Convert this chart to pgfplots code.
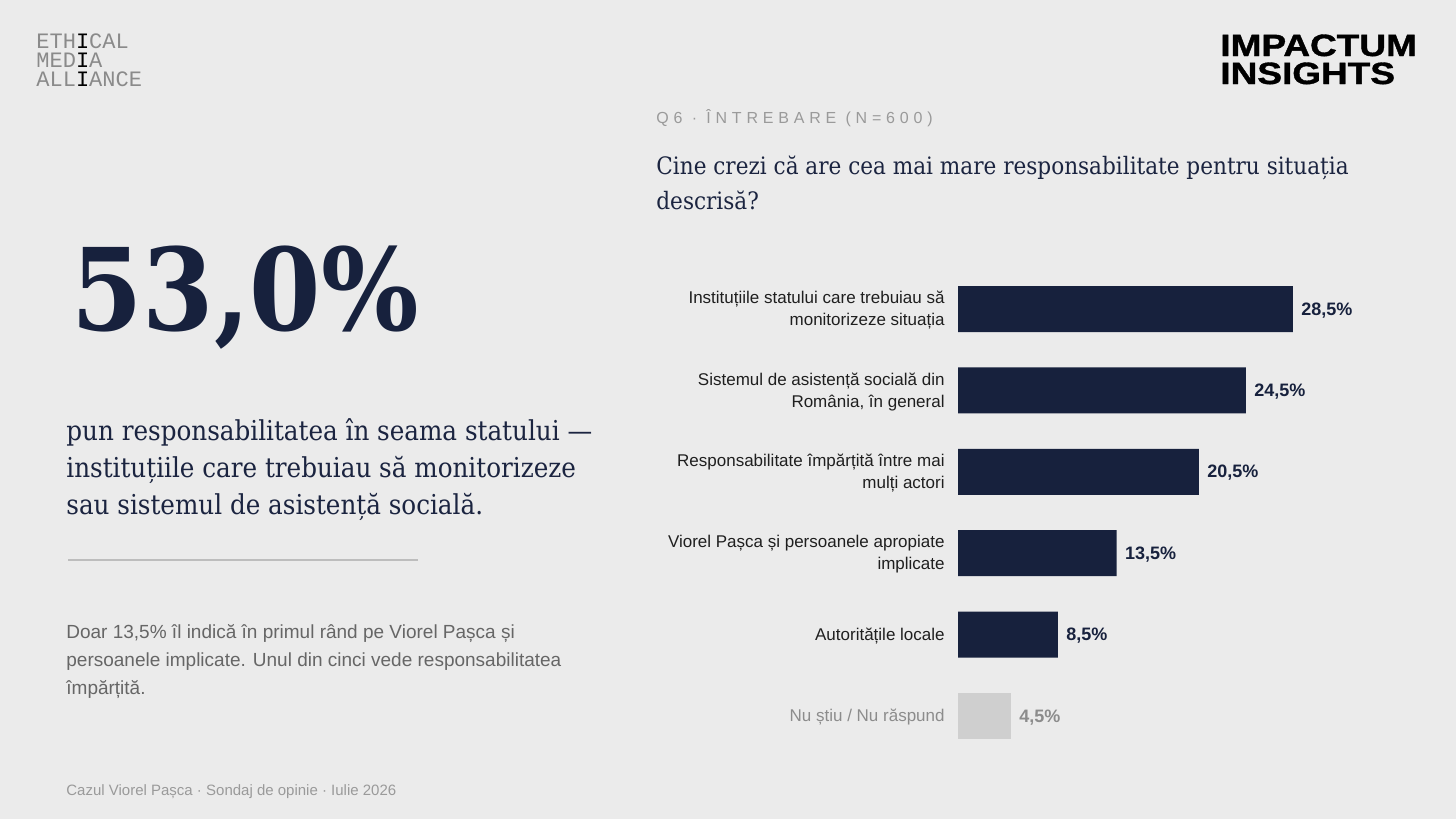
\documentclass[border=0pt]{standalone}
\usepackage{pgfplots}
\pgfplotsset{compat=1.18}
\usepackage{fontspec}
\setmainfont{Liberation Sans}
\newfontfamily\serifc{DejaVu Serif Condensed}
\newfontfamily\monof{Liberation Mono}
\newfontfamily\spaced{Liberation Sans}[LetterSpace=30]
\newfontfamily\heavy{Liberation Sans Bold}[FakeBold=1.2]

\definecolor{bg}{HTML}{EBEBEB}
\definecolor{navy}{HTML}{17213D}
\definecolor{ink}{HTML}{1B2440}
\definecolor{bargray}{HTML}{CFCFCF}
\definecolor{labeldark}{HTML}{1F1F1F}
\definecolor{mutedgray}{HTML}{8C8C8C}
\definecolor{bodygray}{HTML}{666666}
\definecolor{footgray}{HTML}{9A9A9A}
\definecolor{rulegray}{HTML}{BDBDBD}
\definecolor{logogray}{HTML}{8A8A8A}

\begin{document}
\begin{tikzpicture}[x=0.5pt,y=-0.5pt]
% page background
\fill[bg] (0,0) rectangle (1456,819);

% logo, top left
\begin{scope}[every node/.style={anchor=base west,inner sep=0pt,text height=7pt,text depth=0pt,
    font=\monof\fontsize{11}{11}\selectfont,text=logogray}]
\node at (36,48) {ETH\textcolor{black}{I}CAL};
\node at (36,67) {MED\textcolor{black}{I}A};
\node at (36,86) {ALL\textcolor{black}{I}ANCE};
\end{scope}

% logo, top right
\node[anchor=base west,inner sep=0pt,font=\heavy\fontsize{15.4}{15.4}\selectfont,text=black] at (1220,56)
  {\scalebox{1.2}[1]{IMPACTUM}};
\node[anchor=base west,inner sep=0pt,font=\heavy\fontsize{15.4}{15.4}\selectfont,text=black] at (1220,84)
  {\scalebox{1.2}[1]{INSIGHTS}};

% headline figure
\node[anchor=base west,inner sep=0pt,font=\serifc\bfseries\fontsize{57}{57}\selectfont,text=navy] at (71,330)
  {53,0\%};

% statement under the figure
\begin{scope}[every node/.style={anchor=base west,inner sep=0pt,font=\serifc\fontsize{13.7}{13.7}\selectfont,text=ink}]
\node at (66,440) {pun responsabilitatea în seama statului —};
\node at (66,477) {instituțiile care trebuiau să monitorizeze};
\node at (66,514) {sau sistemul de asistență socială.};
\end{scope}
\draw[rulegray,line width=0.6pt] (68,560) -- (418,560);

% supporting note
\begin{scope}[every node/.style={anchor=base west,inner sep=0pt,font=\fontsize{9.5}{9.5}\selectfont,text=bodygray}]
\node at (66,638) {Doar 13,5\% îl indică în primul rând pe Viorel Pașca și};
\node at (66,666) {persoanele implicate. Unul din cinci vede responsabilitatea};
\node at (66,694) {împărțită.};
\end{scope}

% footer
\node[anchor=base west,inner sep=0pt,font=\fontsize{7.5}{7.5}\selectfont,text=footgray] at (66,795)
  {Cazul Viorel Pașca · Sondaj de opinie · Iulie 2026};

% question header
\node[anchor=base west,inner sep=0pt,font=\spaced\fontsize{8}{8}\selectfont,text=footgray] at (656,123)
  {Q6 · ÎNTREBARE (N=600)};
\node[anchor=base west,inner sep=0pt,font=\serifc\fontsize{12}{12}\selectfont,text=ink] at (656,174)
  {Cine crezi că are cea mai mare responsabilitate pentru situația};
\node[anchor=base west,inner sep=0pt,font=\serifc\fontsize{12}{12}\selectfont,text=ink] at (656,209)
  {descrisă?};

% bar chart
\pgfkeys{/pgf/number format/.cd,use comma,fixed,fixed zerofill,precision=1,assume math mode=true}
\begin{axis}[
  at={(479pt,-134.15pt)}, anchor=north west,
  scale only axis, width=176.25pt, height=244.2pt,
  xbar, bar width=23pt, bar shift=0pt,
  xmin=0, xmax=30, ymin=-0.5, ymax=5.5, y dir=reverse,
  xtick=\empty, ytick={0,1,2,3,4,5},
  yticklabels={
    {Instituțiile statului care trebuiau să\\monitorizeze situația},
    {Sistemul de asistență socială din\\România, în general},
    {Responsabilitate împărțită între mai\\mulți actori},
    {Viorel Pașca și persoanele apropiate\\implicate},
    {Autoritățile locale},
    {\textcolor{mutedgray}{Nu știu / Nu răspund}}},
  yticklabel style={anchor=east, align=right, inner sep=0pt, xshift=-6.5pt, yshift=-0.6pt,
    font=\fontsize{8.5}{11}\selectfont, text=labeldark},
  major tick length=0pt, axis line style={draw=none},
  clip=false,
  nodes near coords={\pgfmathprintnumber{\pgfplotspointmeta}\%},
  nodes near coords style={anchor=west, inner sep=0pt, xshift=4pt, yshift=-0.6pt,
    font=\bfseries\fontsize{9}{11}\selectfont},
]
\addplot[fill=navy, draw=none, nodes near coords style={text=navy}]
  coordinates {(28.5,0) (24.5,1) (20.5,2) (13.5,3) (8.5,4)};
\addplot[fill=bargray, draw=none, nodes near coords style={text=mutedgray}]
  coordinates {(4.5,5)};
\end{axis}

\pgfresetboundingbox
\useasboundingbox (0,0) rectangle (1456,819);
\end{tikzpicture}
\end{document}
